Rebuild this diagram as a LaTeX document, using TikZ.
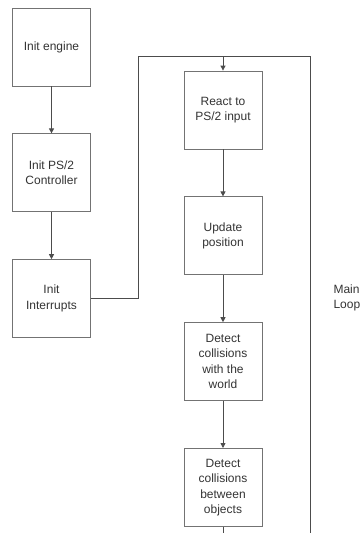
\documentclass[tikz,border=0pt]{standalone}
\usepackage{fontspec}
\setmainfont{Liberation Sans}
\usetikzlibrary{positioning, arrows.meta}

\tikzset{
  box/.style={draw=black!55, line width=0.8pt, minimum width=78pt, minimum height=78pt,
    inner sep=2pt, align=center, text=black!80, font=\fontsize{12}{15.5}\selectfont},
  flow/.style={draw=black!70, line width=0.8pt},
  arr/.style={flow, -{Triangle[length=5pt,width=5pt]}}
}

\begin{document}
\begin{tikzpicture}[x=1pt, y=-1pt, node distance=47pt]
\useasboundingbox (0,0) rectangle (362,533);
% start-up
\node[box] (engine) at (51.5,47) {Init engine};
\node[box, below=of engine] (ctrl) {Init PS/2\\Controller};
\node[box, below=of ctrl] (irq) {Init\\Interrupts};
% loop body
\node[box] (react) at (223,110) {React to\\PS/2 input};
\node[box, below=of react] (update) {Update\\position};
\node[box, below=of update] (world) {Detect\\collisions\\with the\\world};
\node[box, below=of world] (objs) {Detect\\collisions\\between\\objects};
\node[anchor=west, align=left, text=black!80, font=\fontsize{12}{15.5}\selectfont] (lbl) at (330,298) {Main\\Loop};

\coordinate (lt) at (138.7,56);
\coordinate (rt) at (310.3,56);
\coordinate (rb) at (310.3,533);

\draw[arr] (engine) -- (ctrl);
\draw[arr] (ctrl) -- (irq);
\draw[flow] (irq.east) -| (lt) -- (rt) -- (rb);
\draw[arr] (react.north |- lt) -- (react);
\draw[arr] (react) -- (update);
\draw[arr] (update) -- (world);
\draw[arr] (world) -- (objs);
\draw[flow] (objs.south) -- (objs.south |- rb);
\end{tikzpicture}
\end{document}
